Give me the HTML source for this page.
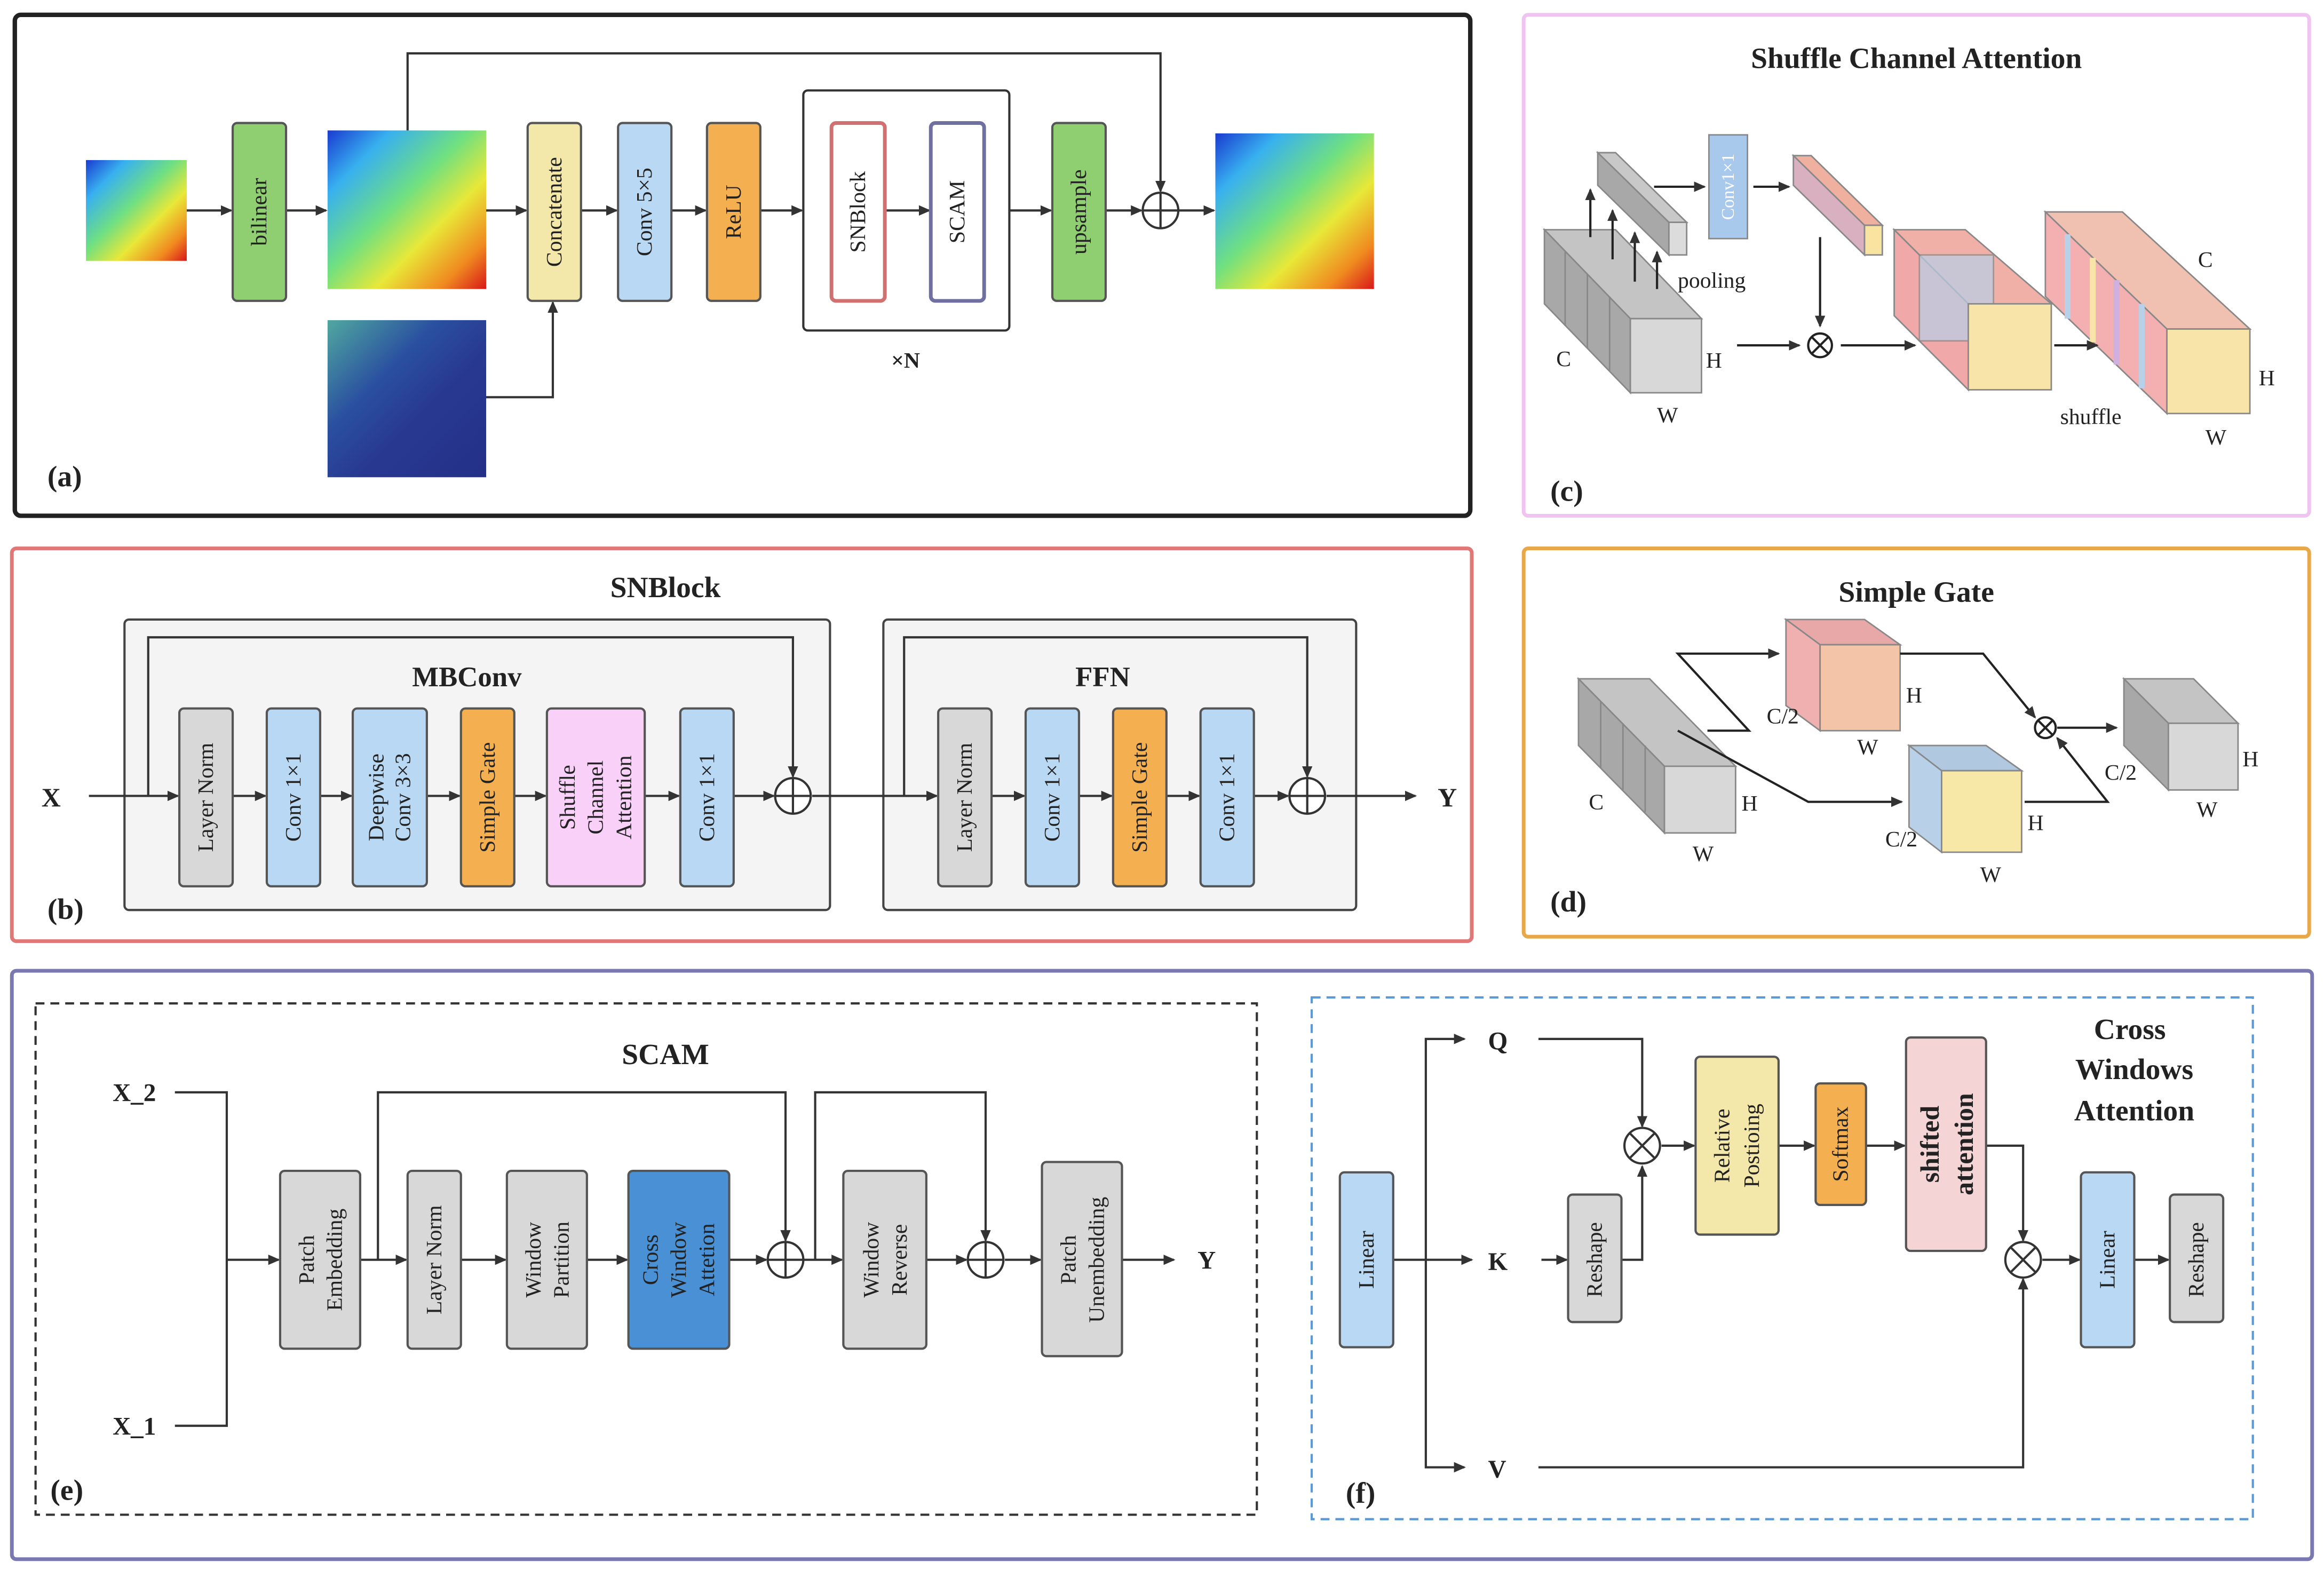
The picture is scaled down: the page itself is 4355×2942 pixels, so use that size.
<!DOCTYPE html>
<html><head><meta charset="utf-8"><style>
html,body{margin:0;padding:0;background:#fff;}
svg{display:block;}
text{font-family:"Liberation Serif",serif;fill:#222;}
.r{font-size:15px;}
.b{font-weight:bold;}
</style></head><body>
<svg width="4355" height="2942" viewBox="0 0 1568 1059.3" preserveAspectRatio="none" xmlns="http://www.w3.org/2000/svg">
<defs>
<marker id="ar" markerWidth="8" markerHeight="8" refX="7" refY="4" orient="auto" markerUnits="userSpaceOnUse"><path d="M0,0.5 L8,4 L0,7.5z" fill="#333"/></marker>
<linearGradient id="hm" x1="0" y1="0" x2="1" y2="1"><stop offset="0" stop-color="#1a3ad0"/><stop offset="0.2" stop-color="#38b0f0"/><stop offset="0.45" stop-color="#70e080"/><stop offset="0.65" stop-color="#e8e838"/><stop offset="0.85" stop-color="#f08a20"/><stop offset="1" stop-color="#d81818"/></linearGradient>
<linearGradient id="dem" x1="0" y1="0" x2="1" y2="1"><stop offset="0" stop-color="#50a8a0"/><stop offset="0.35" stop-color="#2a50a0"/><stop offset="0.6" stop-color="#283890"/><stop offset="1" stop-color="#243088"/></linearGradient>
</defs>
<g fill="none">
<rect x="10" y="10" width="982" height="338" rx="4" stroke="#222" stroke-width="3"/>
<rect x="1028" y="10" width="530" height="338" rx="3" stroke="#f0c4f0" stroke-width="2.5"/>
<rect x="8" y="370" width="985" height="265" rx="3" stroke="#e07878" stroke-width="2.5"/>
<rect x="1028" y="370" width="530" height="262" rx="3" stroke="#e8a848" stroke-width="2.5"/>
<rect x="8" y="655" width="1552" height="397" rx="3" stroke="#7a78b0" stroke-width="2.5"/>
<rect x="24" y="677" width="824" height="345" stroke="#333" stroke-width="1.5" stroke-dasharray="6,4"/>
<rect x="885" y="673" width="635" height="352" stroke="#5a9ad8" stroke-width="1.5" stroke-dasharray="6,4"/>
</g>
<!-- (a) -->
<rect x="58" y="108" width="68" height="68" fill="url(#hm)"/>
<rect x="221" y="88" width="107" height="107" fill="url(#hm)"/>
<rect x="221" y="216" width="107" height="106" fill="url(#dem)"/>
<rect x="820" y="90" width="107" height="105" fill="url(#hm)"/>
<g stroke="#333" stroke-width="1.5" fill="none" marker-end="url(#ar)">
<line x1="126" y1="142" x2="156" y2="142"/><line x1="193" y1="142" x2="220" y2="142"/>
<line x1="328" y1="142" x2="355" y2="142"/><line x1="392" y1="142" x2="416" y2="142"/>
<line x1="453" y1="142" x2="476" y2="142"/><line x1="513" y1="142" x2="541" y2="142"/>
<line x1="597" y1="142" x2="627" y2="142"/><line x1="681" y1="142" x2="709" y2="142"/>
<line x1="746" y1="142" x2="770" y2="142"/><line x1="795" y1="142" x2="819" y2="142"/>
<polyline points="275,88 275,36 783,36 783,129"/>
<polyline points="328,268 373,268 373,204"/>
</g>
<circle cx="783" cy="142" r="12" fill="#fff" stroke="#333" stroke-width="1.5"/><path d="M771,142H795M783,130V154" stroke="#333" stroke-width="1.5"/>
<rect x="542" y="61" width="139" height="162" rx="3" fill="none" stroke="#333" stroke-width="1.5"/>
<g stroke="#555" stroke-width="1.5">
<rect x="157" y="83" width="36" height="120" rx="3" fill="#8fcf72"/>
<rect x="356" y="83" width="36" height="120" rx="3" fill="#f3e8aa"/>
<rect x="417" y="83" width="36" height="120" rx="3" fill="#b8d8f4"/>
<rect x="477" y="83" width="36" height="120" rx="3" fill="#f4b050"/>
<rect x="561" y="83" width="36" height="120" rx="3" fill="#fff" stroke="#d07070" stroke-width="2.5"/>
<rect x="628" y="83" width="36" height="120" rx="3" fill="#fff" stroke="#7070a0" stroke-width="2.5"/>
<rect x="710" y="83" width="36" height="120" rx="3" fill="#8fcf72"/>
</g>
<g class="r" text-anchor="middle" dominant-baseline="central">
<text transform="translate(175,143) rotate(-90)">bilinear</text>
<text transform="translate(374,143) rotate(-90)">Concatenate</text>
<text transform="translate(435,143) rotate(-90)">Conv 5×5</text>
<text transform="translate(495,143) rotate(-90)">ReLU</text>
<text transform="translate(579,143) rotate(-90)">SNBlock</text>
<text transform="translate(646,143) rotate(-90)">SCAM</text>
<text transform="translate(728,143) rotate(-90)">upsample</text>
</g>
<text x="611" y="248" class="r b" text-anchor="middle">×N</text>
<text x="32" y="328" font-size="20" class="b">(a)</text>
<!-- (c) -->
<text x="1293" y="46" font-size="20" class="b" text-anchor="middle">Shuffle Channel Attention</text>
<g stroke="#888" stroke-width="1">
<polygon points="1042,155 1090,155 1148,215 1100,215" fill="#c4c4c4"/>
<polygon points="1042,155 1100,215 1100,265 1042,205" fill="#a8a8a8"/>
<rect x="1100" y="215" width="48" height="50" fill="#d8d8d8"/>
<line x1="1056" y1="170" x2="1056" y2="220"/><line x1="1071" y1="185" x2="1071" y2="235"/><line x1="1086" y1="200" x2="1086" y2="250"/>
<polygon points="1078,103 1090,103 1138,150 1126,150" fill="#c8c8c8"/>
<polygon points="1078,103 1126,150 1126,172 1078,125" fill="#a8a8a8"/>
<rect x="1126" y="150" width="12" height="22" fill="#dcdcdc"/>
<polygon points="1210,105 1222,105 1270,152 1258,152" fill="#f0b0a0"/>
<polygon points="1210,105 1258,152 1258,172 1210,125" fill="#d8b0c0"/>
<rect x="1258" y="152" width="12" height="20" fill="#f8e4a0"/>
<polygon points="1278,155 1326,155 1384,205 1328,205" fill="#f0b0a8"/>
<polygon points="1278,155 1328,205 1328,263 1278,213" fill="#f0a8a8"/>
<polygon points="1295,172 1345,172 1345,230 1295,230" fill="#b8d0e8" opacity="0.7"/>
<rect x="1328" y="205" width="56" height="58" fill="#f8e4a8"/>
<polygon points="1380,143 1432,143 1518,222 1462,222" fill="#f0c0b0"/>
<polygon points="1380,143 1462,222 1462,279 1380,200" fill="#f4b0b0"/>
<line x1="1395" y1="158" x2="1395" y2="215" stroke="#b8d0e8" stroke-width="4"/><line x1="1412" y1="174" x2="1412" y2="231" stroke="#f8e4a8" stroke-width="4"/><line x1="1428" y1="189" x2="1428" y2="246" stroke="#d0b0e0" stroke-width="4"/><line x1="1445" y1="205" x2="1445" y2="262" stroke="#b8d0e8" stroke-width="4"/>
<rect x="1462" y="222" width="56" height="57" fill="#f8e4a8"/>
<rect x="1153" y="91" width="26" height="70" fill="#a8c8ec"/>
</g>
<text transform="translate(1166,126) rotate(-90)" font-size="12" fill="#fff" text-anchor="middle" dominant-baseline="central" style="fill:#fff">Conv1×1</text>
<g stroke="#222" stroke-width="1.5" fill="none" marker-end="url(#ar)">
<line x1="1073" y1="160" x2="1073" y2="128"/><line x1="1088" y1="175" x2="1088" y2="142"/><line x1="1103" y1="190" x2="1103" y2="157"/><line x1="1118" y1="195" x2="1118" y2="170"/>
<line x1="1116" y1="126" x2="1150" y2="126"/><line x1="1183" y1="126" x2="1207" y2="126"/>
<line x1="1228" y1="160" x2="1228" y2="220"/><line x1="1172" y1="233" x2="1214" y2="233"/>
<line x1="1242" y1="233" x2="1292" y2="233"/><line x1="1386" y1="233" x2="1415" y2="233"/>
</g>
<circle cx="1228" cy="233" r="8" fill="#fff" stroke="#222" stroke-width="1.5"/><path d="M1222,227L1234,239M1234,227L1222,239" stroke="#222" stroke-width="1.5"/>
<g class="r"><text x="1132" y="194">pooling</text><text x="1050" y="247">C</text><text x="1151" y="248">H</text><text x="1118" y="285">W</text><text x="1390" y="286">shuffle</text><text x="1483" y="180">C</text><text x="1524" y="260">H</text><text x="1488" y="300">W</text></g>
<text x="1046" y="338" font-size="20" class="b">(c)</text>
<!-- (b) -->
<text x="449" y="403" font-size="20" class="b" text-anchor="middle">SNBlock</text>
<rect x="84" y="418" width="476" height="196" rx="3" fill="#f4f4f4" stroke="#444" stroke-width="1.5"/>
<rect x="596" y="418" width="319" height="196" rx="3" fill="#f4f4f4" stroke="#444" stroke-width="1.5"/>
<text x="315" y="463" font-size="19" class="b" text-anchor="middle">MBConv</text>
<text x="744" y="463" font-size="19" class="b" text-anchor="middle">FFN</text>
<g stroke="#333" stroke-width="1.5" fill="none" marker-end="url(#ar)">
<line x1="60" y1="537" x2="120" y2="537"/><line x1="157" y1="537" x2="179" y2="537"/><line x1="216" y1="537" x2="237" y2="537"/><line x1="288" y1="537" x2="310" y2="537"/><line x1="347" y1="537" x2="368" y2="537"/><line x1="435" y1="537" x2="458" y2="537"/><line x1="495" y1="537" x2="522" y2="537"/>
<line x1="548" y1="537" x2="632" y2="537"/><line x1="669" y1="537" x2="691" y2="537"/><line x1="728" y1="537" x2="750" y2="537"/><line x1="787" y1="537" x2="809" y2="537"/><line x1="846" y1="537" x2="869" y2="537"/><line x1="895" y1="537" x2="955" y2="537"/>
<polyline points="100,537 100,430 535,430 535,524"/>
<polyline points="610,537 610,430 882,430 882,524"/>
</g>
<g stroke="#555" stroke-width="1.5">
<rect x="121" y="478" width="36" height="120" rx="3" fill="#d8d8d8"/>
<rect x="180" y="478" width="36" height="120" rx="3" fill="#b8d8f4"/>
<rect x="238" y="478" width="50" height="120" rx="3" fill="#b8d8f4"/>
<rect x="311" y="478" width="36" height="120" rx="3" fill="#f4b050"/>
<rect x="369" y="478" width="66" height="120" rx="3" fill="#f8d0f8"/>
<rect x="459" y="478" width="36" height="120" rx="3" fill="#b8d8f4"/>
<rect x="633" y="478" width="36" height="120" rx="3" fill="#d8d8d8"/>
<rect x="692" y="478" width="36" height="120" rx="3" fill="#b8d8f4"/>
<rect x="751" y="478" width="36" height="120" rx="3" fill="#f4b050"/>
<rect x="810" y="478" width="36" height="120" rx="3" fill="#b8d8f4"/>
</g>
<g class="r" text-anchor="middle" dominant-baseline="central">
<text transform="translate(139,538) rotate(-90)">Layer Norm</text>
<text transform="translate(198,538) rotate(-90)">Conv 1×1</text>
<text transform="translate(254,538) rotate(-90)">Deepwise</text><text transform="translate(272,538) rotate(-90)">Conv 3×3</text>
<text transform="translate(329,538) rotate(-90)">Simple Gate</text>
<text transform="translate(383,538) rotate(-90)">Shuffle</text><text transform="translate(402,538) rotate(-90)">Channel</text><text transform="translate(421,538) rotate(-90)">Attention</text>
<text transform="translate(477,538) rotate(-90)">Conv 1×1</text>
<text transform="translate(651,538) rotate(-90)">Layer Norm</text>
<text transform="translate(710,538) rotate(-90)">Conv 1×1</text>
<text transform="translate(769,538) rotate(-90)">Simple Gate</text>
<text transform="translate(828,538) rotate(-90)">Conv 1×1</text>
</g>
<g stroke="#333" stroke-width="1.5"><circle cx="535" cy="537" r="12" fill="#fff"/><path d="M523,537H547M535,525V549"/><circle cx="882" cy="537" r="12" fill="#fff"/><path d="M870,537H894M882,525V549"/></g>
<text x="28" y="544" font-size="18" class="b">X</text><text x="970" y="544" font-size="18" class="b">Y</text>
<text x="32" y="620" font-size="20" class="b">(b)</text>
<!-- (d) -->
<text x="1293" y="406" font-size="20" class="b" text-anchor="middle">Simple Gate</text>
<g stroke="#888" stroke-width="1">
<polygon points="1065,458 1113,458 1171,517 1123,517" fill="#c4c4c4"/>
<polygon points="1065,458 1123,517 1123,562 1065,503" fill="#a8a8a8"/>
<rect x="1123" y="517" width="48" height="45" fill="#d8d8d8"/>
<line x1="1080" y1="473" x2="1080" y2="518"/><line x1="1095" y1="488" x2="1095" y2="533"/><line x1="1110" y1="503" x2="1110" y2="548"/>
<polygon points="1205,418 1258,418 1282,435 1228,435" fill="#e8a8a8"/>
<polygon points="1205,418 1228,435 1228,493 1205,476" fill="#f0b0b0"/>
<rect x="1228" y="435" width="54" height="58" fill="#f4c4a8"/>
<polygon points="1288,503 1340,503 1364,520 1310,520" fill="#b0c8e0"/>
<polygon points="1288,503 1310,520 1310,575 1288,558" fill="#b8d0e8"/>
<rect x="1310" y="520" width="54" height="55" fill="#f8e8a8"/>
<polygon points="1433,458 1480,458 1510,488 1463,488" fill="#c4c4c4"/>
<polygon points="1433,458 1463,488 1463,533 1433,503" fill="#a8a8a8"/>
<rect x="1463" y="488" width="47" height="45" fill="#d8d8d8"/>
</g>
<g stroke="#222" stroke-width="1.5" fill="none" marker-end="url(#ar)">
<polyline points="1152,493 1180,493 1132,441 1200,441"/>
<polyline points="1132,493 1220,541 1283,541"/>
<polyline points="1282,441 1338,441 1373,484"/>
<polyline points="1366,541 1422,541 1388,498"/>
<line x1="1388" y1="491" x2="1428" y2="491"/>
</g>
<circle cx="1380" cy="491" r="7" fill="#fff" stroke="#222" stroke-width="1.5"/><path d="M1375,486L1385,496M1385,486L1375,496" stroke="#222" stroke-width="1.5"/>
<g class="r"><text x="1072" y="546">C</text><text x="1175" y="547">H</text><text x="1142" y="581">W</text><text x="1192" y="488">C/2</text><text x="1286" y="474">H</text><text x="1253" y="509">W</text><text x="1272" y="571">C/2</text><text x="1368" y="560">H</text><text x="1336" y="595">W</text><text x="1420" y="526">C/2</text><text x="1513" y="517">H</text><text x="1482" y="551">W</text></g>
<text x="1046" y="615" font-size="20" class="b">(d)</text>
<!-- (e) -->
<text x="449" y="718" font-size="20" class="b" text-anchor="middle">SCAM</text>
<text x="76" y="743" font-size="17" class="b">X_2</text><text x="76" y="968" font-size="17" class="b">X_1</text>
<g stroke="#333" stroke-width="1.5" fill="none" marker-end="url(#ar)">
<polyline points="118,737 153,737 153,962 118,962" marker-end="none"/>
<line x1="153" y1="850" x2="188" y2="850"/><line x1="243" y1="850" x2="274" y2="850"/><line x1="311" y1="850" x2="341" y2="850"/><line x1="396" y1="850" x2="423" y2="850"/><line x1="492" y1="850" x2="517" y2="850"/>
<line x1="542" y1="850" x2="568" y2="850"/><line x1="625" y1="850" x2="652" y2="850"/><line x1="678" y1="850" x2="702" y2="850"/><line x1="757" y1="850" x2="792" y2="850"/>
<polyline points="255,850 255,737 530,737 530,837"/>
<polyline points="550,850 550,737 665,737 665,837"/>
</g>
<g stroke="#555" stroke-width="1.5">
<rect x="189" y="790" width="54" height="120" rx="3" fill="#d8d8d8"/>
<rect x="275" y="790" width="36" height="120" rx="3" fill="#d8d8d8"/>
<rect x="342" y="790" width="54" height="120" rx="3" fill="#d8d8d8"/>
<rect x="424" y="790" width="68" height="120" rx="3" fill="#4a90d4"/>
<rect x="569" y="790" width="56" height="120" rx="3" fill="#d8d8d8"/>
<rect x="703" y="784" width="54" height="131" rx="3" fill="#d8d8d8"/>
</g>
<g class="r" text-anchor="middle" dominant-baseline="central">
<text transform="translate(207,850) rotate(-90)">Patch</text><text transform="translate(226,850) rotate(-90)">Embedding</text>
<text transform="translate(293,850) rotate(-90)">Layer Norm</text>
<text transform="translate(360,850) rotate(-90)">Window</text><text transform="translate(379,850) rotate(-90)">Partition</text>
<text transform="translate(439,850) rotate(-90)">Cross</text><text transform="translate(458,850) rotate(-90)">Window</text><text transform="translate(477,850) rotate(-90)">Attetion</text>
<text transform="translate(588,850) rotate(-90)">Window</text><text transform="translate(607,850) rotate(-90)">Reverse</text>
<text transform="translate(721,850) rotate(-90)">Patch</text><text transform="translate(740,850) rotate(-90)">Unembedding</text>
</g>
<g stroke="#333" stroke-width="1.5"><circle cx="530" cy="850" r="12" fill="#fff"/><path d="M518,850H542M530,838V862"/><circle cx="665" cy="850" r="12" fill="#fff"/><path d="M653,850H677M665,838V862"/></g>
<text x="808" y="856" font-size="17" class="b">Y</text>
<text x="34" y="1012" font-size="20" class="b">(e)</text>
<!-- (f) -->
<g font-size="20" class="b" text-anchor="middle"><text x="1437" y="701">Cross</text><text x="1440" y="728">Windows</text><text x="1440" y="756">Attention</text></g>
<g stroke="#333" stroke-width="1.5" fill="none" marker-end="url(#ar)">
<line x1="940" y1="850" x2="993" y2="850"/>
<polyline points="962,850 962,701 988,701"/>
<polyline points="962,850 962,990 988,990"/>
<line x1="1040" y1="850" x2="1057" y2="850"/>
<polyline points="1038,701 1108,701 1108,760"/>
<polyline points="1094,850 1108,850 1108,787"/>
<line x1="1121" y1="773" x2="1143" y2="773"/><line x1="1200" y1="773" x2="1224" y2="773"/><line x1="1259" y1="773" x2="1285" y2="773"/>
<polyline points="1340,773 1365,773 1365,837"/>
<polyline points="1038,990 1365,990 1365,863"/>
<line x1="1378" y1="850" x2="1403" y2="850"/><line x1="1440" y1="850" x2="1463" y2="850"/>
</g>
<g stroke="#333" stroke-width="1.5"><circle cx="1108" cy="773" r="12" fill="#fff"/><path d="M1100,765L1116,781M1116,765L1100,781"/><circle cx="1365" cy="850" r="12" fill="#fff"/><path d="M1357,842L1373,858M1373,842L1357,858"/></g>
<g stroke="#555" stroke-width="1.5">
<rect x="904" y="791" width="36" height="118" rx="3" fill="#b8d8f4"/>
<rect x="1058" y="806" width="36" height="86" rx="3" fill="#d8d8d8"/>
<rect x="1144" y="713" width="56" height="120" rx="3" fill="#f3e8aa"/>
<rect x="1225" y="731" width="34" height="82" rx="3" fill="#f4b050"/>
<rect x="1286" y="700" width="54" height="144" rx="3" fill="#f4d4d4"/>
<rect x="1404" y="791" width="36" height="118" rx="3" fill="#b8d8f4"/>
<rect x="1464" y="806" width="36" height="86" rx="3" fill="#d8d8d8"/>
</g>
<g class="r" text-anchor="middle" dominant-baseline="central">
<text transform="translate(922,850) rotate(-90)">Linear</text>
<text transform="translate(1076,850) rotate(-90)">Reshape</text>
<text transform="translate(1162,773) rotate(-90)">Relative</text><text transform="translate(1182,773) rotate(-90)">Postioing</text>
<text transform="translate(1242,772) rotate(-90)">Softmax</text>
<text transform="translate(1302,772) rotate(-90)" font-size="18" font-weight="bold">shifted</text><text transform="translate(1325,772) rotate(-90)" font-size="18" font-weight="bold">attention</text>
<text transform="translate(1422,850) rotate(-90)">Linear</text>
<text transform="translate(1482,850) rotate(-90)">Reshape</text>
</g>
<g font-size="17" class="b"><text x="1004" y="708">Q</text><text x="1004" y="857">K</text><text x="1004" y="997">V</text></g>
<text x="908" y="1014" font-size="20" class="b">(f)</text>
</svg>
</body></html>
